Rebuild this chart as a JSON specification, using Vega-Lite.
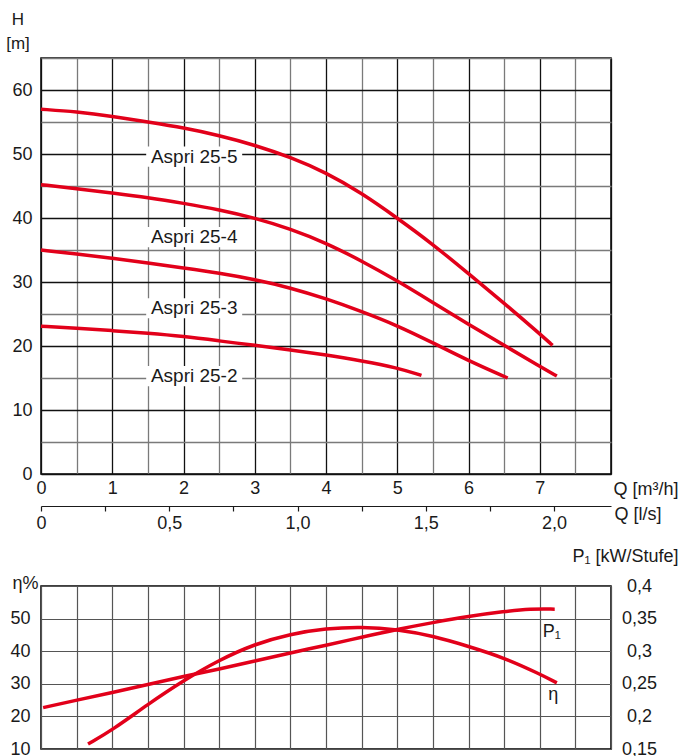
{
  "$schema": "https://vega.github.io/schema/vega-lite/v6.json",
  "padding": {"left": 4, "top": 9, "right": 0, "bottom": 0},
  "background": "white",
  "spacing": 112,
  "bounds": "flush",
  "resolve": {"scale": {"x": "independent", "y": "independent"}},
  "config": {
    "view": {"stroke": "#000", "strokeWidth": 1.5},
    "font": "Liberation Sans",
    "axis": {"labelFont": "Liberation Sans", "titleFont": "Liberation Sans", "labelColor": "#1a1a1a", "titleColor": "#1a1a1a", "titleFontWeight": "normal", "labelFontSize": 18, "titleFontSize": 18}
  },
  "datasets": {
    "curves": [
      {"pump": "Aspri 25-5", "Q": 0, "H": 57.0}, {"pump": "Aspri 25-5", "Q": 0.5, "H": 56.6}, {"pump": "Aspri 25-5", "Q": 1.0, "H": 55.9}, {"pump": "Aspri 25-5", "Q": 1.5, "H": 55.0}, {"pump": "Aspri 25-5", "Q": 2.0, "H": 54.1}, {"pump": "Aspri 25-5", "Q": 2.5, "H": 52.9}, {"pump": "Aspri 25-5", "Q": 3.0, "H": 51.4}, {"pump": "Aspri 25-5", "Q": 3.5, "H": 49.5}, {"pump": "Aspri 25-5", "Q": 4.0, "H": 47.1}, {"pump": "Aspri 25-5", "Q": 4.5, "H": 43.9}, {"pump": "Aspri 25-5", "Q": 5.0, "H": 40.0}, {"pump": "Aspri 25-5", "Q": 5.5, "H": 35.9}, {"pump": "Aspri 25-5", "Q": 6.0, "H": 31.3}, {"pump": "Aspri 25-5", "Q": 6.5, "H": 26.7}, {"pump": "Aspri 25-5", "Q": 7.0, "H": 21.9}, {"pump": "Aspri 25-5", "Q": 7.18, "H": 20.1},
      {"pump": "Aspri 25-4", "Q": 0, "H": 45.2}, {"pump": "Aspri 25-4", "Q": 0.5, "H": 44.6}, {"pump": "Aspri 25-4", "Q": 1.0, "H": 43.9}, {"pump": "Aspri 25-4", "Q": 1.5, "H": 43.2}, {"pump": "Aspri 25-4", "Q": 2.0, "H": 42.3}, {"pump": "Aspri 25-4", "Q": 2.5, "H": 41.3}, {"pump": "Aspri 25-4", "Q": 3.0, "H": 40.0}, {"pump": "Aspri 25-4", "Q": 3.5, "H": 38.3}, {"pump": "Aspri 25-4", "Q": 4.0, "H": 36.1}, {"pump": "Aspri 25-4", "Q": 4.5, "H": 33.3}, {"pump": "Aspri 25-4", "Q": 5.0, "H": 30.2}, {"pump": "Aspri 25-4", "Q": 5.5, "H": 26.8}, {"pump": "Aspri 25-4", "Q": 6.0, "H": 23.4}, {"pump": "Aspri 25-4", "Q": 6.5, "H": 20.1}, {"pump": "Aspri 25-4", "Q": 7.0, "H": 16.8}, {"pump": "Aspri 25-4", "Q": 7.24, "H": 15.3},
      {"pump": "Aspri 25-3", "Q": 0, "H": 35.0}, {"pump": "Aspri 25-3", "Q": 0.5, "H": 34.4}, {"pump": "Aspri 25-3", "Q": 1.0, "H": 33.7}, {"pump": "Aspri 25-3", "Q": 1.5, "H": 33.0}, {"pump": "Aspri 25-3", "Q": 2.0, "H": 32.2}, {"pump": "Aspri 25-3", "Q": 2.5, "H": 31.4}, {"pump": "Aspri 25-3", "Q": 3.0, "H": 30.4}, {"pump": "Aspri 25-3", "Q": 3.5, "H": 29.1}, {"pump": "Aspri 25-3", "Q": 4.0, "H": 27.4}, {"pump": "Aspri 25-3", "Q": 4.5, "H": 25.4}, {"pump": "Aspri 25-3", "Q": 5.0, "H": 23.2}, {"pump": "Aspri 25-3", "Q": 5.5, "H": 20.5}, {"pump": "Aspri 25-3", "Q": 6.0, "H": 17.7}, {"pump": "Aspri 25-3", "Q": 6.55, "H": 15.0},
      {"pump": "Aspri 25-2", "Q": 0, "H": 23.1}, {"pump": "Aspri 25-2", "Q": 0.5, "H": 22.8}, {"pump": "Aspri 25-2", "Q": 1.0, "H": 22.4}, {"pump": "Aspri 25-2", "Q": 1.5, "H": 22.0}, {"pump": "Aspri 25-2", "Q": 2.0, "H": 21.5}, {"pump": "Aspri 25-2", "Q": 2.5, "H": 20.8}, {"pump": "Aspri 25-2", "Q": 3.0, "H": 20.1}, {"pump": "Aspri 25-2", "Q": 3.5, "H": 19.4}, {"pump": "Aspri 25-2", "Q": 4.0, "H": 18.6}, {"pump": "Aspri 25-2", "Q": 4.5, "H": 17.7}, {"pump": "Aspri 25-2", "Q": 5.0, "H": 16.6}, {"pump": "Aspri 25-2", "Q": 5.34, "H": 15.4}
    ],
    "labels": [
      {"label": "Aspri 25-5", "Q": 2.15, "H": 49.6},
      {"label": "Aspri 25-4", "Q": 2.15, "H": 37.0},
      {"label": "Aspri 25-3", "Q": 2.15, "H": 25.9},
      {"label": "Aspri 25-2", "Q": 2.15, "H": 15.3}
    ],
    "lsticks": [{"ls": 0}, {"ls": 0.5}, {"ls": 1.0}, {"ls": 1.5}, {"ls": 2.0}],
    "eta": [
      {"Q": 0.66, "eta": 11.5}, {"Q": 1.0, "eta": 15.8}, {"Q": 1.5, "eta": 23.7}, {"Q": 2.0, "eta": 31.0}, {"Q": 2.5, "eta": 37.3}, {"Q": 3.0, "eta": 42.2}, {"Q": 3.5, "eta": 45.3}, {"Q": 4.0, "eta": 47.0}, {"Q": 4.5, "eta": 47.5}, {"Q": 5.0, "eta": 46.7}, {"Q": 5.5, "eta": 44.7}, {"Q": 6.0, "eta": 41.5}, {"Q": 6.5, "eta": 38.0}, {"Q": 7.0, "eta": 33.0}, {"Q": 7.24, "eta": 30.3}
    ],
    "p1": [
      {"Q": 0.03, "P": 0.2135}, {"Q": 0.5, "P": 0.225}, {"Q": 1.0, "P": 0.2365}, {"Q": 1.5, "P": 0.249}, {"Q": 2.0, "P": 0.2615}, {"Q": 2.5, "P": 0.2725}, {"Q": 3.0, "P": 0.285}, {"Q": 3.5, "P": 0.2975}, {"Q": 4.0, "P": 0.309}, {"Q": 4.5, "P": 0.3215}, {"Q": 5.0, "P": 0.3335}, {"Q": 5.5, "P": 0.344}, {"Q": 6.0, "P": 0.3535}, {"Q": 6.5, "P": 0.361}, {"Q": 6.87, "P": 0.365}, {"Q": 7.21, "P": 0.3645}
    ],
    "curvelabels": [
      {"label": "P₁", "Q": 7.17, "eta": 46.0},
      {"label": "η", "Q": 7.19, "eta": 26.5}
    ]
  },
  "vconcat": [
    {
      "width": 570,
      "height": 416,
      "layer": [
        {
          "encoding": {
            "x": {
              "field": "Q", "type": "quantitative",
              "scale": {"domain": [0, 8], "nice": false, "zero": false},
              "axis": {
                "orient": "bottom",
                "values": [0, 0.5, 1, 1.5, 2, 2.5, 3, 3.5, 4, 4.5, 5, 5.5, 6, 6.5, 7, 7.5, 8],
                "labelExpr": "datum.value % 1 === 0 && datum.value < 8 ? format(datum.value, 'd') : ''",
                "ticks": false, "domain": false, "labelPadding": 5, "labelFlush": false,
                "grid": true,
                "gridColor": {"condition": {"test": "datum.value % 1 === 0", "value": "#111111"}, "value": "#7a7a7a"},
                "gridWidth": 1.3,
                "title": "Q [m³/h]", "titleX": 572, "titleY": 15, "titleAlign": "left", "titleBaseline": "middle", "titleAngle": 0
              }
            },
            "y": {
              "field": "H", "type": "quantitative",
              "scale": {"domain": [0, 65], "nice": false},
              "axis": {
                "values": [0, 5, 10, 15, 20, 25, 30, 35, 40, 45, 50, 55, 60, 65],
                "labelExpr": "datum.value % 10 === 0 && datum.value <= 60 ? format(datum.value, 'd') : ''",
                "ticks": false, "domain": false, "labelPadding": 9,
                "grid": true,
                "gridColor": {"condition": {"test": "datum.value % 10 === 0", "value": "#111111"}, "value": "#7a7a7a"},
                "gridWidth": 1.3,
                "title": ["H", "[m]"], "titleAngle": 0, "titleX": -23.5, "titleY": -34, "titleAlign": "center", "titleBaseline": "alphabetic", "titleLineHeight": 24, "titleFontSize": 17
              }
            }
          },
          "layer": [
            {"data": {"name": "labels"}, "mark": {"type": "point", "shape": "M-1,-0.21H1V0.21H-1Z", "size": 9216, "filled": true, "color": "white", "opacity": 1, "strokeWidth": 0}},
            {"data": {"name": "labels"}, "mark": {"type": "text", "fontSize": 19, "color": "#1a1a1a", "font": "Liberation Sans", "baseline": "middle", "align": "center"}, "encoding": {"text": {"field": "label"}}},
            {"data": {"name": "curves"}, "mark": {"type": "line", "color": "#e2001a", "strokeWidth": 3.5, "interpolate": "basis"}, "encoding": {"detail": {"field": "pump"}}}
          ]
        },
        {
          "data": {"name": "lsticks"},
          "mark": {"type": "point", "opacity": 0},
          "encoding": {
            "x": {
              "field": "ls", "type": "quantitative",
              "scale": {"domain": [0, 2.2222], "nice": false, "zero": false},
              "axis": {
                "orient": "bottom", "offset": 32,
                "values": [0, 0.25, 0.5, 0.75, 1.0, 1.25, 1.5, 1.75, 2.0],
                "labelExpr": "datum.value === 0 ? '0' : ((datum.value * 2) % 1 === 0 ? replace(format(datum.value, '.1f'), '.', ',') : '')",
                "tickSize": 5, "tickColor": "#1a1a1a", "tickWidth": 1.2,
                "domain": true, "domainColor": "#1a1a1a", "domainWidth": 1.2,
                "labelPadding": 3, "labelFlush": false, "grid": false,
                "title": "Q [l/s]", "titleX": 573, "titleY": 8, "titleAlign": "left", "titleBaseline": "middle", "titleAngle": 0
              }
            }
          }
        }
      ],
      "resolve": {"scale": {"x": "independent"}, "axis": {"x": "independent"}}
    },
    {
      "width": 570,
      "height": 163,
      "encoding": {
        "x": {
          "field": "Q", "type": "quantitative",
          "scale": {"domain": [0, 8], "nice": false, "zero": false},
          "axis": {
            "orient": "bottom",
            "values": [0, 0.5, 1, 1.5, 2, 2.5, 3, 3.5, 4, 4.5, 5, 5.5, 6, 6.5, 7, 7.5, 8],
            "labels": false, "ticks": false, "domain": false,
            "grid": true, "gridColor": "#555555", "gridWidth": 1.2, "title": null
          }
        }
      },
      "layer": [
        {
          "encoding": {
            "y": {
              "field": "eta", "type": "quantitative",
              "scale": {"domain": [10, 60], "nice": false, "zero": false},
              "axis": {
                "orient": "left",
                "values": [10, 20, 30, 40, 50, 60],
                "labelExpr": "datum.value < 60 ? format(datum.value, 'd') : ''",
                "ticks": false, "domain": false, "labelPadding": 11,
                "grid": true, "gridColor": "#555555", "gridWidth": 1.2,
                "title": "η%", "titleAngle": 0, "titleX": -16, "titleY": 2, "titleAlign": "center", "titleBaseline": "alphabetic"
              }
            }
          },
          "layer": [
            {"data": {"name": "eta"}, "mark": {"type": "line", "color": "#e2001a", "strokeWidth": 3.5, "interpolate": "basis"}},
            {"data": {"name": "curvelabels"}, "mark": {"type": "text", "fontSize": 18, "color": "#1a1a1a", "font": "Liberation Sans", "baseline": "middle", "align": "center"}, "encoding": {"text": {"field": "label"}}}
          ]
        },
        {
          "data": {"name": "p1"},
          "mark": {"type": "line", "color": "#e2001a", "strokeWidth": 3.5, "interpolate": "basis"},
          "encoding": {
            "y": {
              "field": "P", "type": "quantitative",
              "scale": {"domain": [0.15, 0.4], "nice": false, "zero": false},
              "axis": {
                "orient": "right",
                "values": [0.15, 0.2, 0.25, 0.3, 0.35, 0.4],
                "labelExpr": "replace(format(datum.value, '.2~f'), '.', ',')",
                "ticks": false, "domain": false, "grid": false,
                "labelAlign": "center", "labelPadding": 28,
                "title": "P₁ [kW/Stufe]", "titleAngle": 0, "titleX": 14, "titleY": -30, "titleAlign": "center", "titleBaseline": "middle"
              }
            }
          }
        }
      ],
      "resolve": {"scale": {"y": "independent"}, "axis": {"y": "independent"}}
    }
  ]
}
